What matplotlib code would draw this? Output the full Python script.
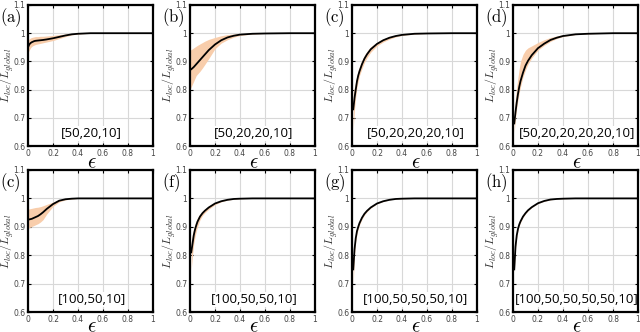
import numpy as np
import matplotlib
matplotlib.use("Agg")
import matplotlib.pyplot as plt

nan = np.nan
eps = [0, 0.01, 0.02, 0.03, 0.04, 0.05, 0.06, 0.08, 0.1, 0.12, 0.15, 0.2,
       0.25, 0.3, 0.35, 0.4, 0.5, 0.6, 0.8, 1.0]

panel_labels = ["(a)", "(b)", "(c)", "(d)", "(c)", "(f)", "(g)", "(h)"]
architectures = ["[50,20,10]", "[50,20,20,10]", "[50,20,20,20,10]",
                 "[50,20,20,20,20,10]", "[100,50,10]", "[100,50,50,10]",
                 "[100,50,50,50,10]", "[100,50,50,50,50,10]"]

a_mean = [0.950, 0.960, 0.965, 0.968, 0.970, 0.972, 0.973, 0.974, 0.975, 0.976, 0.978, 0.982, 0.987, 0.992, 0.996, 0.998, 1.0, 1.0, 1.0, 1.0]
a_lo = [0.930, 0.940, 0.948, 0.953, 0.956, 0.958, 0.960, 0.962, 0.964, 0.966, 0.969, 0.974, 0.981, 0.988, 0.994, 0.997, 1.0, 1.0, 1.0, 1.0]
a_hi = [0.975, 0.980, 0.983, 0.985, 0.986, 0.987, 0.988, 0.988, 0.989, 0.989, 0.990, 0.992, 0.995, 0.997, 0.999, 1.0, 1.0, 1.0, 1.0, 1.0]

b_mean = [0.870, 0.872, 0.876, 0.880, 0.885, 0.890, 0.895, 0.905, 0.915, 0.925, 0.940, 0.960, 0.975, 0.985, 0.991, 0.995, 0.998, 0.999, 1.0, 1.0]
b_lo = [0.800, 0.810, 0.820, 0.830, 0.840, 0.850, 0.855, 0.865, 0.877, 0.890, 0.910, 0.945, 0.965, 0.977, 0.986, 0.992, 0.997, 0.999, 1.0, 1.0]
b_hi = [0.940, 0.942, 0.945, 0.948, 0.951, 0.954, 0.957, 0.962, 0.967, 0.972, 0.978, 0.985, 0.991, 0.995, 0.997, 0.998, 0.999, 1.0, 1.0, 1.0]

c_mean = [nan, 0.73, 0.77, 0.80, 0.83, 0.85, 0.865, 0.89, 0.91, 0.925, 0.943, 0.962, 0.975, 0.984, 0.990, 0.994, 0.998, 0.999, 1.0, 1.0]
c_lo = [nan, 0.66, 0.73, 0.775, 0.81, 0.83, 0.85, 0.875, 0.897, 0.913, 0.933, 0.955, 0.969, 0.979, 0.987, 0.992, 0.997, 0.999, 1.0, 1.0]
c_hi = [nan, 0.79, 0.81, 0.83, 0.85, 0.87, 0.882, 0.905, 0.922, 0.936, 0.952, 0.968, 0.980, 0.988, 0.993, 0.996, 0.999, 1.0, 1.0, 1.0]

d_mean = [nan, 0.68, 0.72, 0.755, 0.785, 0.81, 0.83, 0.86, 0.885, 0.902, 0.922, 0.947, 0.963, 0.976, 0.984, 0.99, 0.996, 0.998, 1.0, 1.0]
d_lo = [nan, 0.65, 0.70, 0.735, 0.765, 0.79, 0.81, 0.845, 0.87, 0.89, 0.912, 0.94, 0.957, 0.971, 0.981, 0.988, 0.995, 0.998, 1.0, 1.0]
d_hi = [nan, 0.72, 0.77, 0.81, 0.845, 0.875, 0.90, 0.925, 0.94, 0.948, 0.955, 0.967, 0.977, 0.985, 0.99, 0.994, 0.998, 0.999, 1.0, 1.0]

e_mean = [0.925, 0.926, 0.927, 0.928, 0.930, 0.932, 0.934, 0.938, 0.944, 0.951, 0.963, 0.980, 0.992, 0.997, 0.999, 1.0, 1.0, 1.0, 1.0, 1.0]
e_lo = [0.895, 0.897, 0.899, 0.901, 0.903, 0.905, 0.907, 0.911, 0.917, 0.925, 0.945, 0.972, 0.988, 0.995, 0.998, 1.0, 1.0, 1.0, 1.0, 1.0]
e_hi = [0.962, 0.963, 0.964, 0.965, 0.966, 0.967, 0.968, 0.969, 0.971, 0.974, 0.979, 0.987, 0.995, 0.999, 1.0, 1.0, 1.0, 1.0, 1.0, 1.0]

f_mean = [nan, 0.81, 0.84, 0.87, 0.89, 0.905, 0.918, 0.936, 0.948, 0.957, 0.968, 0.982, 0.99, 0.995, 0.998, 0.999, 1.0, 1.0, 1.0, 1.0]
f_lo = [nan, 0.75, 0.80, 0.84, 0.865, 0.885, 0.90, 0.925, 0.94, 0.95, 0.962, 0.978, 0.988, 0.994, 0.997, 0.999, 1.0, 1.0, 1.0, 1.0]
f_hi = [nan, 0.85, 0.875, 0.895, 0.91, 0.922, 0.932, 0.946, 0.956, 0.963, 0.973, 0.985, 0.992, 0.996, 0.999, 1.0, 1.0, 1.0, 1.0, 1.0]

g_mean = [nan, 0.75, 0.82, 0.86, 0.885, 0.90, 0.913, 0.932, 0.946, 0.956, 0.968, 0.982, 0.99, 0.995, 0.998, 0.999, 1.0, 1.0, 1.0, 1.0]
g_lo = [nan, 0.70, 0.80, 0.848, 0.876, 0.893, 0.907, 0.927, 0.942, 0.953, 0.966, 0.981, 0.989, 0.995, 0.998, 0.999, 1.0, 1.0, 1.0, 1.0]
g_hi = [nan, 0.78, 0.83, 0.866, 0.89, 0.905, 0.917, 0.935, 0.948, 0.958, 0.97, 0.983, 0.991, 0.996, 0.999, 1.0, 1.0, 1.0, 1.0, 1.0]

h_mean = [nan, 0.75, 0.83, 0.87, 0.893, 0.908, 0.919, 0.936, 0.948, 0.958, 0.969, 0.983, 0.991, 0.996, 0.998, 0.999, 1.0, 1.0, 1.0, 1.0]
h_lo = [nan, 0.74, 0.822, 0.864, 0.888, 0.904, 0.915, 0.933, 0.946, 0.956, 0.968, 0.982, 0.990, 0.995, 0.998, 0.999, 1.0, 1.0, 1.0, 1.0]
h_hi = [nan, 0.76, 0.836, 0.875, 0.897, 0.911, 0.922, 0.939, 0.950, 0.960, 0.970, 0.984, 0.992, 0.997, 0.999, 1.0, 1.0, 1.0, 1.0, 1.0]

means = [a_mean, b_mean, c_mean, d_mean, e_mean, f_mean, g_mean, h_mean]
lows = [a_lo, b_lo, c_lo, d_lo, e_lo, f_lo, g_lo, h_lo]
highs = [a_hi, b_hi, c_hi, d_hi, e_hi, f_hi, g_hi, h_hi]

xticks = [0, 0.2, 0.4, 0.6, 0.8, 1.0]
xticklabels = ["0", "0.2", "0.4", "0.6", "0.8", "1"]
yticks = [0.6, 0.7, 0.8, 0.9, 1.0, 1.1]
yticklabels = ["0.6", "0.7", "0.8", "0.9", "1", "1.1"]

plt.rcParams["mathtext.fontset"] = "cm"

W, H = 640, 332
fig = plt.figure(figsize=(6.4, 3.32), dpi=100)
lefts = [28, 190, 352, 513]
rows = [(5, 146), (170, 312)]
band_color = "#f8cdab"

for i in range(8):
    r, c = divmod(i, 4)
    top, bot = rows[r]
    ax = fig.add_axes([lefts[c] / W, (H - bot) / H, 125 / W, (bot - top) / H])
    x = np.array(eps)
    m = np.array(means[i])
    lo = np.array(lows[i])
    hi = np.array(highs[i])
    ok = ~np.isnan(m)
    ax.fill_between(x[ok], lo[ok], hi[ok], color=band_color, lw=0, zorder=2)
    ax.plot(x[ok], m[ok], color="black", lw=1.3, zorder=3)
    ax.set_xlim(0, 1)
    ax.set_ylim(0.6, 1.1)
    ax.set_xticks(xticks)
    ax.set_xticklabels(xticklabels)
    ax.set_yticks(yticks)
    ax.set_yticklabels(yticklabels)
    ax.grid(True, color="#d8d8d8", lw=0.8, zorder=0)
    ax.tick_params(direction="in", top=True, right=True, length=2.5, width=0.8,
                   labelsize=5.5, labelcolor="#444444", pad=2)
    for sp in ax.spines.values():
        sp.set_linewidth(1.6)
        sp.set_zorder(5)
    ax.text(-0.165, 0.5, r"$L_{loc}/L_{global}$", transform=ax.transAxes,
            rotation=90, ha="center", va="center", fontsize=8.5, color="#333333")
    ax.text(0.51, -0.115 if r == 0 else -0.10, r"$\epsilon$", transform=ax.transAxes,
            ha="center", va="center", fontsize=15)
    ax.text(-0.225, 0.91, r"$\mathrm{%s}$" % panel_labels[i], transform=ax.transAxes,
            ha="left", va="center", fontsize=12)
    ax.text(0.51, 0.09, architectures[i], transform=ax.transAxes,
            ha="center", va="center", fontsize=9.5, family="Open Sans",
            bbox=dict(facecolor="white", edgecolor="none", pad=0.8), zorder=4)

fig.savefig("out.png", dpi=100)
